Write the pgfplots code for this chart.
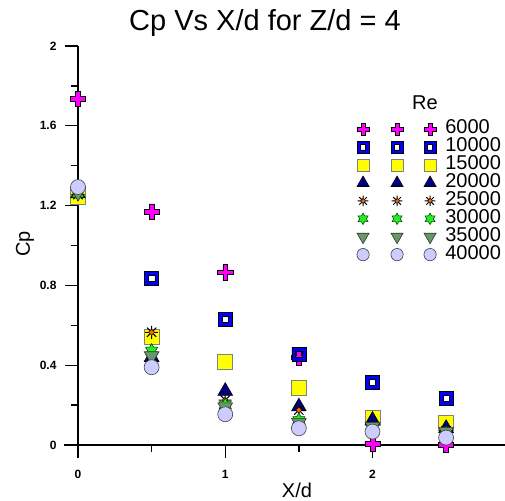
\documentclass[border=0pt]{standalone}
\usepackage{fontspec}
\setmainfont{Liberation Sans}
\usepackage{pgfplots}
\pgfplotsset{compat=1.18}
\definecolor{pinkc}{HTML}{FF00FF}
\definecolor{bluec}{HTML}{0000FF}
\definecolor{yellc}{HTML}{FFFF00}
\definecolor{navyc}{HTML}{000080}
\definecolor{orangec}{HTML}{FF6600}
\definecolor{greenc}{HTML}{22EE22}
\definecolor{sagec}{HTML}{669966}
\definecolor{lavc}{HTML}{CCCCFF}

\pgfdeclareplotmark{fatplus}{%
  \pgfpathmoveto{\pgfqpoint{-2.4pt}{7.6pt}}%
  \pgfpathlineto{\pgfqpoint{2.4pt}{7.6pt}}%
  \pgfpathlineto{\pgfqpoint{2.4pt}{2.4pt}}%
  \pgfpathlineto{\pgfqpoint{7.6pt}{2.4pt}}%
  \pgfpathlineto{\pgfqpoint{7.6pt}{-2.4pt}}%
  \pgfpathlineto{\pgfqpoint{2.4pt}{-2.4pt}}%
  \pgfpathlineto{\pgfqpoint{2.4pt}{-7.6pt}}%
  \pgfpathlineto{\pgfqpoint{-2.4pt}{-7.6pt}}%
  \pgfpathlineto{\pgfqpoint{-2.4pt}{-2.4pt}}%
  \pgfpathlineto{\pgfqpoint{-7.6pt}{-2.4pt}}%
  \pgfpathlineto{\pgfqpoint{-7.6pt}{2.4pt}}%
  \pgfpathlineto{\pgfqpoint{-2.4pt}{2.4pt}}%
  \pgfpathclose
  \pgfusepathqfillstroke
}
\pgfdeclareplotmark{ring}{%
  \pgfpathmoveto{\pgfqpoint{-7pt}{-7pt}}%
  \pgfpathlineto{\pgfqpoint{7pt}{-7pt}}%
  \pgfpathlineto{\pgfqpoint{7pt}{7pt}}%
  \pgfpathlineto{\pgfqpoint{-7pt}{7pt}}%
  \pgfpathclose
  \pgfpathmoveto{\pgfqpoint{-3.2pt}{-3.2pt}}%
  \pgfpathlineto{\pgfqpoint{-3.2pt}{3.2pt}}%
  \pgfpathlineto{\pgfqpoint{3.2pt}{3.2pt}}%
  \pgfpathlineto{\pgfqpoint{3.2pt}{-3.2pt}}%
  \pgfpathclose
  \pgfusepathqfillstroke
}
\pgfdeclareplotmark{oast}{%
  \pgfscope
  \pgfsetlinewidth{1pt}%
  \pgfsetstrokecolor{black}%
  \pgfpathmoveto{\pgfqpoint{-6.5pt}{0pt}}\pgfpathlineto{\pgfqpoint{6.5pt}{0pt}}%
  \pgfpathmoveto{\pgfqpoint{0pt}{-6.5pt}}\pgfpathlineto{\pgfqpoint{0pt}{6.5pt}}%
  \pgfpathmoveto{\pgfqpoint{-4.6pt}{-4.6pt}}\pgfpathlineto{\pgfqpoint{4.6pt}{4.6pt}}%
  \pgfpathmoveto{\pgfqpoint{-4.6pt}{4.6pt}}\pgfpathlineto{\pgfqpoint{4.6pt}{-4.6pt}}%
  \pgfusepathqstroke
  \pgfsetfillcolor{orangec}%
  \pgfsetlinewidth{0.4pt}%
  \pgfpathmoveto{\pgfqpoint{0pt}{3pt}}%
  \pgfpathlineto{\pgfqpoint{3pt}{0pt}}%
  \pgfpathlineto{\pgfqpoint{0pt}{-3pt}}%
  \pgfpathlineto{\pgfqpoint{-3pt}{0pt}}%
  \pgfpathclose
  \pgfusepathqfillstroke
  \endpgfscope
}
\pgfdeclareplotmark{star6}{%
  \pgfpathmoveto{\pgfpointpolar{90}{7pt}}%
  \pgfpathlineto{\pgfpointpolar{120}{4.04pt}}%
  \pgfpathlineto{\pgfpointpolar{150}{7pt}}%
  \pgfpathlineto{\pgfpointpolar{180}{4.04pt}}%
  \pgfpathlineto{\pgfpointpolar{210}{7pt}}%
  \pgfpathlineto{\pgfpointpolar{240}{4.04pt}}%
  \pgfpathlineto{\pgfpointpolar{270}{7pt}}%
  \pgfpathlineto{\pgfpointpolar{300}{4.04pt}}%
  \pgfpathlineto{\pgfpointpolar{330}{7pt}}%
  \pgfpathlineto{\pgfpointpolar{0}{4.04pt}}%
  \pgfpathlineto{\pgfpointpolar{30}{7pt}}%
  \pgfpathlineto{\pgfpointpolar{60}{4.04pt}}%
  \pgfpathclose
  \pgfusepathqfillstroke
}
\pgfdeclareplotmark{dtri}{%
  \pgfpathmoveto{\pgfpointpolar{270}{8.5pt}}%
  \pgfpathlineto{\pgfpointpolar{30}{8.5pt}}%
  \pgfpathlineto{\pgfpointpolar{150}{8.5pt}}%
  \pgfpathclose
  \pgfusepathqfillstroke
}

\begin{document}
\begin{tikzpicture}
\useasboundingbox (-78pt,-55pt) rectangle (427pt,445pt);
\begin{axis}[
  at={(0pt,0pt)}, anchor=south west,
  scale only axis, width=427pt, height=399pt,
  xmin=0, xmax=2.9, ymin=0, ymax=2,
  clip=false,
  axis x line=bottom, axis y line=left,
  axis line style={-, line width=1.6pt},
  tick align=outside,
  major tick length=13pt, minor tick length=6.5pt,
  tick style={black, line width=1.3pt},
  xtick={0,1,2}, minor xtick={0.5,1.5,2.5},
  ytick={0,0.4,0.8,1.2,1.6,2}, minor ytick={0.2,0.6,1,1.4,1.8},
  yticklabels={0,0.4,0.8,1.2,1.6,2},
  xticklabels={0,1,2},
  ticklabel style={font=\bfseries\fontsize{12}{12}\selectfont},
  xticklabel style={yshift=-9pt},
  yticklabel style={xshift=-5pt},
  legend cell align=left,
  legend image code/.code={\draw[#1, only marks, every mark/.append style={scale=0.82}] plot coordinates {(0pt,0pt) (34pt,0pt) (67pt,0pt)};},
  legend style={draw=none, fill=none, inner sep=0pt, outer sep=0pt,
    at={(0.653,0.81)}, anchor=north west,
    font=\fontsize{20}{20}\selectfont,
    row sep=2.9pt,
    nodes={inner sep=0pt, text height=12pt, text depth=3pt},
    /tikz/every odd column/.append style={column sep=9pt}},
]
\addplot[only marks, mark=fatplus, mark options={fill=pinkc, draw=black, line width=0.6pt}]
  coordinates {(0,1.734) (0.5,1.17) (1,0.866) (1.5,0.44) (2,0.008) (2.5,0)};
\addlegendentry{6000}
\addplot[only marks, mark=ring, mark options={fill=bluec, draw=black, line width=0.6pt}]
  coordinates {(0,1.26) (0.5,0.837) (1,0.63) (1.5,0.455) (2,0.314) (2.5,0.234)};
\addlegendentry{10000}
\addplot[only marks, mark=square*, mark size=7.5pt, mark options={fill=yellc, draw=gray, line width=0.6pt}]
  coordinates {(0,1.245) (0.5,0.541) (1,0.416) (1.5,0.289) (2,0.137) (2.5,0.109)};
\addlegendentry{15000}
\addplot[only marks, mark=triangle*, mark size=8.5pt, mark options={fill=navyc, draw=black, line width=0.6pt}]
  coordinates {(0,1.26) (0.5,0.44) (1,0.27) (1.5,0.192) (2,0.125) (2.5,0.084)};
\addlegendentry{20000}
\addplot[only marks, mark=oast, mark options={fill=orangec, draw=black}]
  coordinates {(0,1.255) (0.5,0.565) (1,0.225) (1.5,0.175) (2,0.1) (2.5,0.07)};
\addlegendentry{25000}
\addplot[only marks, mark=star6, mark options={fill=greenc, draw=black!70!green, line width=0.6pt}]
  coordinates {(0,1.26) (0.5,0.473) (1,0.2) (1.5,0.125) (2,0.08) (2.5,0.06)};
\addlegendentry{30000}
\addplot[only marks, mark=dtri, mark options={fill=sagec, draw=black!80, line width=0.6pt}]
  coordinates {(0,1.265) (0.5,0.446) (1,0.19) (1.5,0.112) (2,0.092) (2.5,0.067)};
\addlegendentry{35000}
\addplot[only marks, mark=*, mark size=7.5pt, mark options={fill=lavc, draw=black!75, line width=0.6pt}]
  coordinates {(0,1.293) (0.5,0.39) (1,0.154) (1.5,0.084) (2,0.067) (2.5,0.037)};
\addlegendentry{40000}
\end{axis}
\draw[line width=1.6pt] (-14pt,0pt) -- (0pt,0pt);
\node[font=\fontsize{29}{32}\selectfont] at (187pt,422pt) {Cp Vs X/d for Z/d = 4};
\node[font=\fontsize{20}{22}\selectfont, rotate=90] at (-53pt,201pt) {Cp};
\node[font=\fontsize{20}{22}\selectfont] at (219pt,-45pt) {X/d};
\node[font=\fontsize{20}{22}\selectfont] at (347pt,342pt) {Re};
\end{tikzpicture}
\end{document}
